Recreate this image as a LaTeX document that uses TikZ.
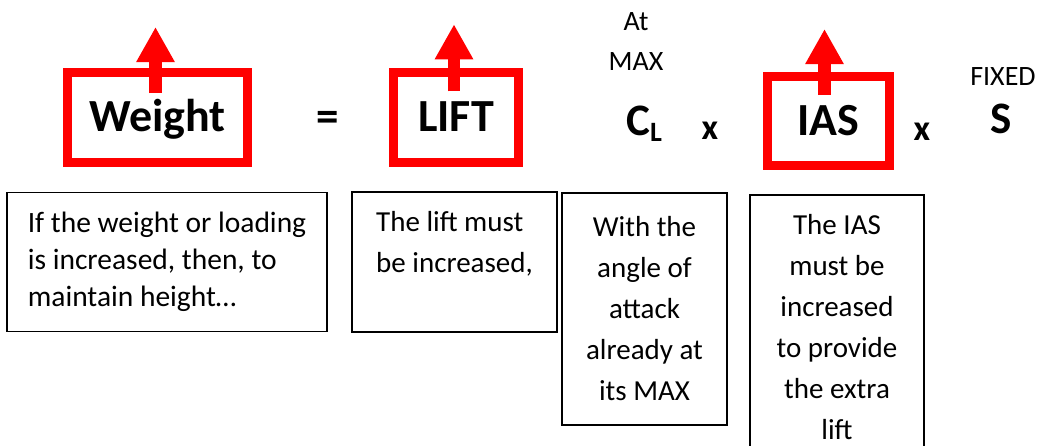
\documentclass[tikz,border=0pt]{standalone}
\usepackage{fontspec}
\setmainfont{Carlito}
\usetikzlibrary{arrows.meta, positioning, calc}
\definecolor{sigred}{HTML}{FF0000}
\definecolor{inkblk}{HTML}{000000}
\newcommand{\fsz}[2]{\fontsize{#1}{#2}\selectfont}

\begin{document}
\begin{tikzpicture}[
  x=1pt, y=-1pt,
  >={Triangle[length=35pt, width=36pt]},
  redbox/.style={draw=sigred, line width=9pt, minimum height=89.5pt, inner sep=0pt,
    font=\fsz{46}{54}\bfseries, text height=28pt, text depth=0pt},
  uparrow/.style={sigred, line width=12.5pt, ->},
  notebox/.style={draw=inkblk, line width=1.3pt, inner sep=0pt, font=\fsz{29}{41}},
  smalllbl/.style={font=\fsz{28}{34}},
  bigsym/.style={font=\fsz{45}{52}\bfseries},
  timessym/.style={font=\fsz{36}{40}\bfseries},
]

% Page
\useasboundingbox (0,0) rectangle (1039,445);
\clip (0,0) rectangle (1039,445);

% === Red boxes with rising arrows ===
\node[redbox, minimum width=180pt] (weight) at (157.5,117.25) {Weight};
\node[redbox, minimum width=125pt] (lift) at (456,117.5) {LIFT};
\node[redbox, minimum width=122pt, minimum height=89pt] (ias) at (828.5,121) {IAS};

\draw[uparrow] ([xshift=-2pt, yshift=-25pt]weight.north) -- ++(0,-66);
\draw[uparrow] ([xshift=-2pt, yshift=-23pt]lift.north) -- ++(0,-67);
\draw[uparrow] ([xshift=-4pt, yshift=-23pt]ias.north) -- ++(0,-66);

% === Formula symbols ===
\node[bigsym] (eq) at (328,121) {=};
\node[smalllbl] (atlbl) at (636,22) {At};
\node[smalllbl] (maxlbl) at (636,62) {MAX};
\node[bigsym, anchor=base west, inner sep=0pt] (cl) at (626,135)
  {C\raisebox{-6pt}{\fsz{28}{28}L}};
\node[timessym] (times1) at (710,131) {x};
\node[timessym] (times2) at (922,132) {x};
\node[smalllbl] (fixed) at (1003,77) {FIXED};
\node[bigsym, anchor=base, inner sep=0pt] (area) at (1001,133) {S};

% === Explanation boxes ===
\node[notebox, minimum width=320pt, minimum height=139pt,
  align=left, font=\fsz{29.5}{37}] (note1) at (167,262)
  {If the weight or loading\\is increased, then, to\\maintain height\ldots};
\node[notebox, minimum width=205pt, minimum height=140pt,
  align=left] (note2) at (454.5,262)
  {The lift must\\be increased,\\\mbox{}};
\node[notebox, minimum width=165pt, minimum height=232pt,
  align=center] (note3) at (644.5,309)
  {With the\\angle of\\attack\\already at\\its MAX};
\node[notebox, minimum width=174pt, minimum height=264pt,
  align=center] (note4) at (837,327)
  {The IAS\\must be\\increased\\to provide\\the extra\\lift};

\end{tikzpicture}
\end{document}
